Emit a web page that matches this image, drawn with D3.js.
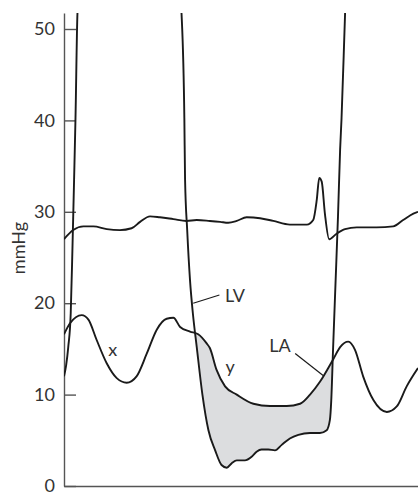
<!DOCTYPE html>
<html><head><meta charset="utf-8">
<script src="https://cdn.jsdelivr.net/npm/d3@7"></script>
<style>
html,body{margin:0;padding:0;background:#fff;}
svg text{font-family:Lato,"Open Sans",sans-serif;fill:#333;}
</style></head>
<body><svg id="c" width="418" height="492"></svg>
<script>
// time (arbitrary units 0-100) and pressure (mmHg)
const upperT = [0,2.6,5.5,8.3,12.1,15.8,19.1,21.5,24.3,27.1,30.9,34.6,37.5,41.2,44.1,46.4,48.8,51.6,55.4,59.1,63.8,68.6,70.4,71.4,72.1,72.8,73.7,74.9,77.0,79.4,82.7,88.3,93.0,95.8,98.7,100];
const upperP = [27.0,28.0,28.4,28.4,28.1,28.0,28.2,28.9,29.5,29.4,29.2,29.0,29.1,29.0,28.9,28.8,29.0,29.4,29.3,29.0,28.6,28.6,29.1,31.3,33.7,33.3,29.8,27.0,27.6,28.1,28.3,28.3,28.4,29.1,29.8,30.0];

const laT = [0,1.7,5.0,6.9,9.2,12.1,14.9,17.7,20.5,23.4,26.2,29.0,30.9,32.8,35.6,37.9,40.3,41.2,43.1,45.5,48.8,53.5,58.2,62.9,66.7,69.5,72.3,76.1,78.0,80.3,82.2,84.5,87.4,91.2,94.0,96.8,100];
const laP = [16.6,17.8,18.7,18.2,16.0,13.4,11.8,11.3,12.0,14.5,17.1,18.3,18.4,17.4,16.9,16.6,15.6,15.1,12.7,10.9,10.0,9.0,8.75,8.75,9.0,10.0,11.4,13.9,15.2,15.8,14.9,12.0,9.4,8.1,8.7,10.9,12.9];

const lvT = [0,0.6,1.2,1.9,2.4,2.85,3.25,3.8,18,33.2,34.0,34.2,34.8,35.6,36.4,37.5,39.1,40.8,42.7,44.5,46.0,47.4,48.8,51.1,53.0,54.4,55.8,57.7,59.6,61.5,63.8,66.2,69.5,72.3,74.2,75.1,75.5,76.0,76.7,77.4,78.0,78.4,79.4,90,100];
const lvP = [12.0,13.2,15.2,18.9,26.2,33.5,40.3,51.7,120,51.7,40.2,33.5,28.0,22.5,18.9,15.2,10.0,6.1,3.9,2.3,2.0,2.5,2.8,2.8,3.2,3.75,4.0,4.0,3.9,4.5,5.2,5.6,5.8,5.8,6.1,7.2,9.4,14.9,22.2,29.5,36.8,40.2,51.7,120,110];

const yTicks = [0,10,20,30,40,50];
const yLabel = "mmHg";
const labels = [
  {text:"LV", t:45.5, p:20.1, lt1:36.5, lp1:20.0, lt2:43.9, lp2:20.9, anchor:"start"},
  {text:"LA", t:58.0, p:14.7, lt1:65.3, lp1:14.5, lt2:73.2, lp2:12.1, anchor:"start"},
  {text:"x", t:13.8, p:14.2, anchor:"middle"},
  {text:"y", t:46.9, p:12.4, anchor:"middle"}
];
const gradT = [30, 80]; // diastolic window where gradient is shaded

const svg = d3.select("#c");
const x = d3.scaleLinear().domain([0,100]).range([64,418]);
const y = d3.scaleLinear().domain([0,51.75]).range([486,13]);

const zip = (T,P)=>T.map((t,i)=>({t,p:P[i]}));
const upper = zip(upperT,upperP), la = zip(laT,laP), lv = zip(lvT,lvP);

const defs = svg.append("defs");
defs.append("clipPath").attr("id","plot").append("rect")
  .attr("x",x(0)).attr("y",y.range()[1]).attr("width",x(100)-x(0)).attr("height",y(0)-y.range()[1]);
defs.append("clipPath").attr("id","band").append("rect")
  .attr("x",x(gradT[0])).attr("y",0).attr("width",x(gradT[1])-x(gradT[0])).attr("height",492);
const aboveArea = d3.area().curve(d3.curveMonotoneX).x(d=>x(d.t)).y0(d=>y(d.p)).y1(()=>y(0)-2000);
defs.append("clipPath").attr("id","aboveLV").append("path").attr("d",aboveArea(lv));

// shaded gradient
const belowArea = d3.area().curve(d3.curveMonotoneX).x(d=>x(d.t)).y0(()=>y(0)).y1(d=>y(d.p));
svg.append("g").attr("clip-path","url(#band)")
  .append("path").attr("d",belowArea(la)).attr("clip-path","url(#aboveLV)")
  .attr("fill","#dcdddf");

// axes
const ya = d3.axisLeft(y).tickValues(yTicks).tickSizeInner(-12).tickSizeOuter(0).tickPadding(9);
const gy = svg.append("g").attr("transform",`translate(${x(0)},0)`).call(ya);
gy.selectAll("path,line").attr("stroke","#555").attr("stroke-width",1.4);
gy.selectAll("text").attr("font-size",18).attr("fill","#333").style("font-family","Lato, 'Open Sans', sans-serif");
const xa = d3.axisBottom(x).tickValues([]).tickSizeOuter(0);
const gx = svg.append("g").attr("transform",`translate(0,${y(0)})`).call(xa);
gx.selectAll("path").attr("stroke","#555").attr("stroke-width",1.4);

svg.append("text").attr("transform",`translate(25,248) rotate(-90)`)
  .attr("text-anchor","middle").attr("font-size",18).text(yLabel);

// curves
const line = d3.line().curve(d3.curveMonotoneX).x(d=>x(d.t)).y(d=>y(d.p));
const g = svg.append("g").attr("clip-path","url(#plot)");
[upper, la, lv].forEach(d=>{
  g.append("path").attr("d",line(d)).attr("fill","none").attr("stroke","#1a1a1a").attr("stroke-width",1.9);
});

// annotations
labels.forEach(l=>{
  if(l.lt1!==undefined){
    svg.append("line").attr("x1",x(l.lt1)).attr("y1",y(l.lp1)).attr("x2",x(l.lt2)).attr("y2",y(l.lp2))
      .attr("stroke","#1a1a1a").attr("stroke-width",1.2);
  }
  svg.append("text").attr("x",x(l.t)).attr("y",y(l.p)).attr("text-anchor",l.anchor)
    .attr("font-size",18).text(l.text);
});
</script></body></html>
